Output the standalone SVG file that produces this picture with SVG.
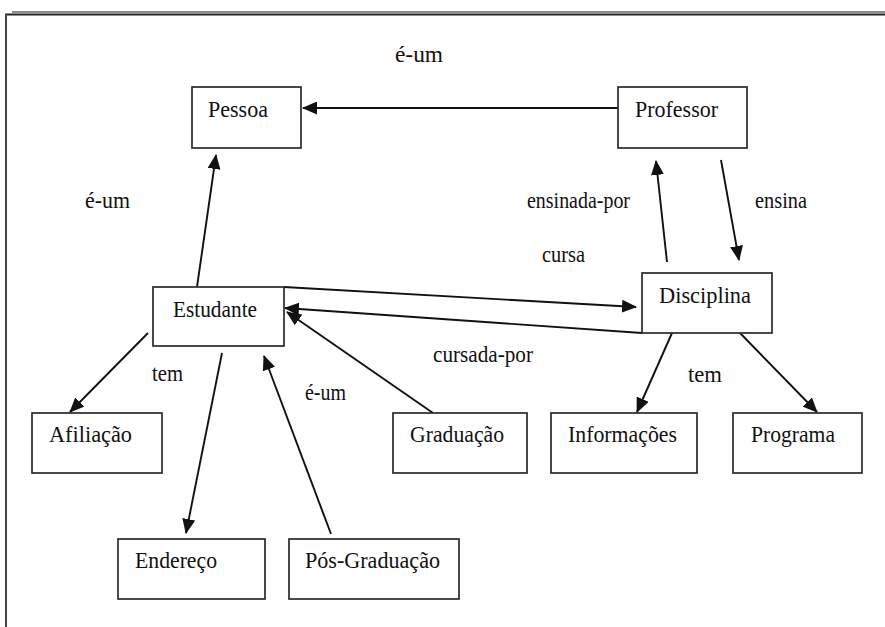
<svg xmlns="http://www.w3.org/2000/svg" width="885" height="627" viewBox="0 0 885 627">
  <defs>
    <style>
      .box { fill: #ffffff; stroke: #2b2b2b; stroke-width: 1.7; }
      .lbl { font-family: "Liberation Serif", "Times New Roman", serif; font-size: 24px; fill: #111111; }
      .edge { stroke: #111111; stroke-width: 1.9; fill: none; marker-end: url(#ah); }
    </style>
    <marker id="ah" markerWidth="15" markerHeight="13" refX="14" refY="6.5" orient="auto" markerUnits="userSpaceOnUse">
      <path d="M0,0 L15,6.5 L0,13 Z" fill="#111111"/>
    </marker>
  </defs>

  <rect x="0" y="0" width="885" height="627" fill="#ffffff"/>

  <!-- page frame -->
  <g id="frame">
    <line x1="12" y1="12" x2="885" y2="12" stroke="#8a8a8a" stroke-width="2"/>
    <line x1="5" y1="14.5" x2="885" y2="14.5" stroke="#222222" stroke-width="1.8"/>
    <line x1="6" y1="14" x2="6" y2="627" stroke="#444444" stroke-width="2"/>
  </g>

  <!-- connectors -->
  <g id="connectors">
    <line class="edge" x1="618" y1="108" x2="303" y2="108"/>
    <line class="edge" x1="197" y1="287" x2="216" y2="155"/>
    <line class="edge" x1="667" y1="262" x2="656" y2="161"/>
    <line class="edge" x1="721" y1="160" x2="739" y2="260"/>
    <line class="edge" x1="284" y1="287" x2="636" y2="307"/>
    <line class="edge" x1="642" y1="333" x2="285" y2="308"/>
    <line class="edge" x1="433" y1="413" x2="287" y2="312"/>
    <line class="edge" x1="331" y1="534" x2="264" y2="356"/>
    <line class="edge" x1="222" y1="353" x2="186" y2="533"/>
    <line class="edge" x1="148" y1="333" x2="70" y2="412"/>
    <line class="edge" x1="672" y1="333" x2="637" y2="412"/>
    <line class="edge" x1="740" y1="333" x2="817" y2="412"/>
  </g>

  <!-- connector labels -->
  <g id="edge-labels">
    <text class="lbl" x="395" y="62" textLength="48" lengthAdjust="spacingAndGlyphs">é-um</text>
    <text class="lbl" x="85" y="208" textLength="45" lengthAdjust="spacingAndGlyphs">é-um</text>
    <text class="lbl" x="527" y="208" textLength="103" lengthAdjust="spacingAndGlyphs">ensinada-por</text>
    <text class="lbl" x="755" y="208" textLength="52" lengthAdjust="spacingAndGlyphs">ensina</text>
    <text class="lbl" x="542" y="262" textLength="43" lengthAdjust="spacingAndGlyphs">cursa</text>
    <text class="lbl" x="433" y="362" textLength="100" lengthAdjust="spacingAndGlyphs">cursada-por</text>
    <text class="lbl" x="305" y="400" textLength="41" lengthAdjust="spacingAndGlyphs">é-um</text>
    <text class="lbl" x="152" y="381" textLength="31" lengthAdjust="spacingAndGlyphs">tem</text>
    <text class="lbl" x="688" y="382" textLength="34" lengthAdjust="spacingAndGlyphs">tem</text>
  </g>

  <!-- nodes -->
  <g id="node-pessoa">
    <rect class="box" x="192" y="87" width="109" height="61"/>
    <text class="lbl" x="208" y="117" textLength="60" lengthAdjust="spacingAndGlyphs">Pessoa</text>
  </g>
  <g id="node-professor">
    <rect class="box" x="618" y="87" width="129" height="61"/>
    <text class="lbl" x="635" y="117" textLength="83" lengthAdjust="spacingAndGlyphs">Professor</text>
  </g>
  <g id="node-estudante">
    <rect class="box" x="153" y="287" width="131" height="59"/>
    <text class="lbl" x="173" y="317" textLength="84" lengthAdjust="spacingAndGlyphs">Estudante</text>
  </g>
  <g id="node-disciplina">
    <rect class="box" x="642" y="273" width="130" height="60"/>
    <text class="lbl" x="659" y="303" textLength="92" lengthAdjust="spacingAndGlyphs">Disciplina</text>
  </g>
  <g id="node-afiliacao">
    <rect class="box" x="32" y="413" width="130" height="60"/>
    <text class="lbl" x="49" y="442" textLength="83" lengthAdjust="spacingAndGlyphs">Afiliação</text>
  </g>
  <g id="node-graduacao">
    <rect class="box" x="393" y="413" width="134" height="60"/>
    <text class="lbl" x="410" y="442" textLength="94" lengthAdjust="spacingAndGlyphs">Graduação</text>
  </g>
  <g id="node-informacoes">
    <rect class="box" x="551" y="413" width="146" height="60"/>
    <text class="lbl" x="568" y="442" textLength="109" lengthAdjust="spacingAndGlyphs">Informações</text>
  </g>
  <g id="node-programa">
    <rect class="box" x="733" y="413" width="129" height="60"/>
    <text class="lbl" x="751" y="442" textLength="84" lengthAdjust="spacingAndGlyphs">Programa</text>
  </g>
  <g id="node-endereco">
    <rect class="box" x="118" y="539" width="147" height="60"/>
    <text class="lbl" x="135" y="568" textLength="82" lengthAdjust="spacingAndGlyphs">Endereço</text>
  </g>
  <g id="node-pos-graduacao">
    <rect class="box" x="289" y="539" width="170" height="60"/>
    <text class="lbl" x="305" y="568" textLength="135" lengthAdjust="spacingAndGlyphs">Pós-Graduação</text>
  </g>
</svg>
